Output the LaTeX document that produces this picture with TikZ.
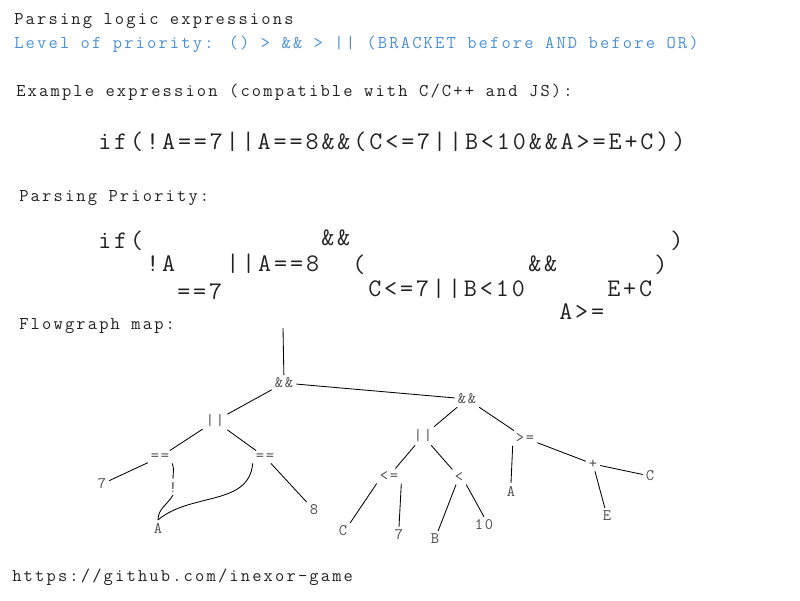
\documentclass[tikz,border=0pt]{standalone}
\usepackage{fontspec}
\newfontfamily\hdrmono[LetterSpace=12]{Latin Modern Mono}
\newfontfamily\bigmono[LetterSpace=11.5]{Latin Modern Mono}
\definecolor{txtcolor}{HTML}{222222}
\definecolor{prcolor}{HTML}{4A90D9}

\begin{document}
\begin{tikzpicture}[x=0.025cm, y=-0.025cm,
    hdr/.style={anchor=base west, inner sep=0pt, font=\hdrmono\fontsize{12.8}{15}\selectfont, text=txtcolor},
    big/.style={anchor=base west, inner sep=0pt, font=\bigmono\fontsize{18}{21}\selectfont, text=txtcolor},
    tnode/.style={inner sep=2pt, font=\hdrmono\fontsize{11.4}{13}\selectfont, text=black!70},
    tline/.style={line width=0.6pt},
  ]
    \useasboundingbox (0,0) rectangle (800,600);

    % header
    \node[hdr] (title) at (14,24.5) {Parsing logic expressions};
    \node[hdr, text=prcolor] (prio) at (14,48.5) {Level of priority: () > \&\& > || (BRACKET before AND before OR)};
    \node[hdr] (exhead) at (16,96.5) {Example expression (compatible with C/C++ and JS):};
    \node[big] (expr) at (98,149.5) {if(!A==7||A==8\&\&(C<=7||B<10\&\&A>=E+C))};

    % parsing priority
    \node[hdr] (pphead) at (19,201.5) {Parsing Priority:};
    \node[big] (pif) at (98,248) {if(};
    \node[big] (pand) at (321,245) {\&\&};
    \node[big] (pclose) at (670,248) {)};
    \node[big] (pnot) at (146,271) {!A};
    \node[big] (por) at (226,271) {||A==8};
    \node[big] (popen) at (352,272) {(};
    \node[big] (pand2) at (528,271) {\&\&};
    \node[big] (pclose2) at (654,272) {)};
    \node[big] (peq) at (177,299) {==7};
    \node[big] (pleft) at (368,296) {C<=7||B<10};
    \node[big] (psum) at (607,296) {E+C};
    \node[big] (pge) at (559,319) {A>=};

    % flowgraph map
    \node[hdr] (fghead) at (19,329.5) {Flowgraph map:};
    \coordinate (root) at (283,328);
    \node[tnode] (and1) at (284,383) {\&\&};
    \node[tnode] (and2) at (467,399) {\&\&};
    \node[tnode] (or1) at (215,421) {||};
    \node[tnode] (eq1) at (160,457) {==};
    \node[tnode] (eq2) at (265,457) {==};
    \node[tnode] (n7a) at (102,484) {7};
    \node[tnode] (not) at (173,487) {!};
    \node[tnode] (a1) at (158,528) {A};
    \node[tnode] (n8) at (314,510) {8};
    \node[tnode] (or2) at (423,436) {||};
    \node[tnode] (ge) at (525,438) {>=};
    \node[tnode] (le) at (389,476) {<=};
    \node[tnode] (lt) at (459,477) {<};
    \node[tnode] (c1) at (343,531) {C};
    \node[tnode] (n7b) at (399,535) {7};
    \node[tnode] (b1) at (435,539) {B};
    \node[tnode] (n10) at (484,525) {10};
    \node[tnode] (a2) at (511,491) {A};
    \node[tnode] (plus) at (593,464) {+};
    \node[tnode] (c2) at (650,476) {C};
    \node[tnode] (e1) at (607,516) {E};

    \draw[tline] (root) -- (and1);
    \draw[tline] (and1) -- (and2);
    \draw[tline] (and1) -- (or1);
    \draw[tline] (or1) -- (eq1);
    \draw[tline] (or1) -- (eq2);
    \draw[tline] (eq1) -- (n7a);
    \draw[tline] (eq1.south east) to[out=-70, in=90] (not.north);
    \draw[tline] (not.south) to[out=-120, in=90] (a1.north);
    \draw[tline] (eq2.south west) to[out=-95, in=40] (a1.north);
    \draw[tline] (eq2) -- (n8);
    \draw[tline] (and2) -- (or2);
    \draw[tline] (and2) -- (ge);
    \draw[tline] (or2) -- (le);
    \draw[tline] (or2) -- (lt);
    \draw[tline] (le.south west) -- (c1.north east);
    \draw[tline] (le.south east) -- (n7b.north);
    \draw[tline] (lt) -- (b1);
    \draw[tline] (lt.south east) -- (n10.north);
    \draw[tline] (ge.south west) -- (a2.north);
    \draw[tline] (ge) -- (plus);
    \draw[tline] (plus) -- (c2);
    \draw[tline] (plus) -- (e1);

    % footer
    \node[hdr] (url) at (12,581.5) {https://github.com/inexor-game};
  \end{tikzpicture}
\end{document}
